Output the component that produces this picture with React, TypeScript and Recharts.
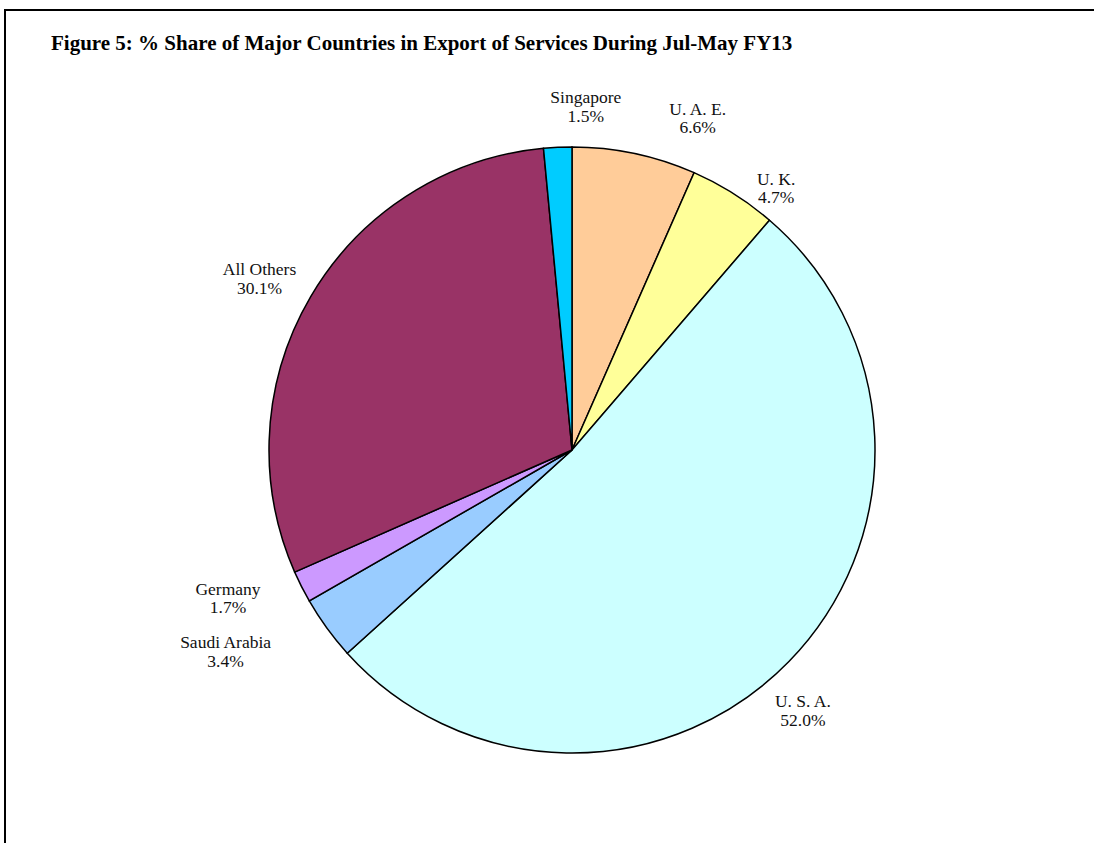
import React from 'react';
import { PieChart, Pie, Cell } from 'recharts';

const countries = ['U. A. E.', 'U. K.', 'U. S. A.', 'Saudi Arabia', 'Germany', 'All Others', 'Singapore'];
const shares = [6.6, 4.7, 52.0, 3.4, 1.7, 30.1, 1.5];
const sliceColors = ['#FFCC99', '#FFFF99', '#CCFFFF', '#99CCFF', '#CC99FF', '#993366', '#00CCFF'];
const title = 'Figure 5: % Share of Major Countries in Export of Services During Jul-May FY13';

// label placement: [angle offset (deg, clockwise), distance from centre]
const labelPlacement: Record<string, [number, number]> = {
  'U. A. E.': [8.8, 356],
  'U. K.': [5.6, 333],
  'U. S. A.': [4.0, 347],
  'Saudi Arabia': [6.0, 400],
  'Germany': [3.7, 374],
  'All Others': [-1.5, 357],
  'Singapore': [5.0, 345],
};

const data = countries.map((name, i) => ({ name, value: shares[i] }));

const FONT = '"Liberation Serif", "Times New Roman", serif';

const renderLabel = (props: any) => {
  const { cx, cy, midAngle, name, value } = props;
  const [off, dist] = labelPlacement[name] || [0, 340];
  const theta = ((90 - midAngle + off) * Math.PI) / 180;
  const x = cx + dist * Math.sin(theta);
  const y = cy - dist * Math.cos(theta);
  return (
    <text
      key={name}
      x={x}
      y={y}
      textAnchor="middle"
      fontFamily={FONT}
      fontSize={17.5}
      fill="#111"
    >
      <tspan x={x} y={y - 2}>{name}</tspan>
      <tspan x={x} y={y + 16.5}>{Number(value).toFixed(1)}%</tspan>
    </text>
  );
};

export default function App() {
  return (
    <div
      style={{
        position: 'absolute',
        left: 0,
        top: 0,
        width: 1094,
        height: 843,
        overflow: 'hidden',
        background: '#fff',
      }}
    >
      <div
        style={{
          position: 'absolute',
          left: 4,
          top: 9,
          width: 1200,
          height: 1000,
          border: '2px solid #000',
          boxSizing: 'border-box',
        }}
      />
      <svg
        width={1094}
        height={843}
        style={{ position: 'absolute', left: 0, top: 0, pointerEvents: 'none' }}
      >
        <text x={51} y={50} fontFamily={FONT} fontWeight="bold" fontSize={21} fill="#000">
          {title}
        </text>
      </svg>
      <div style={{ position: 'absolute', left: 0, top: 0 }}>
        <PieChart width={1094} height={843} margin={{ top: 0, right: 0, bottom: 0, left: 0 }}>
          <Pie
            data={data}
            dataKey="value"
            nameKey="name"
            cx={572}
            cy={450}
            outerRadius={303}
            startAngle={90}
            endAngle={-270}
            stroke="#000"
            strokeWidth={1.5}
            label={renderLabel}
            labelLine={false}
            isAnimationActive={false}
          >
            {data.map((d, i) => (
              <Cell key={d.name} fill={sliceColors[i]} stroke="#000" strokeWidth={1.5} />
            ))}
          </Pie>
        </PieChart>
      </div>
    </div>
  );
}
